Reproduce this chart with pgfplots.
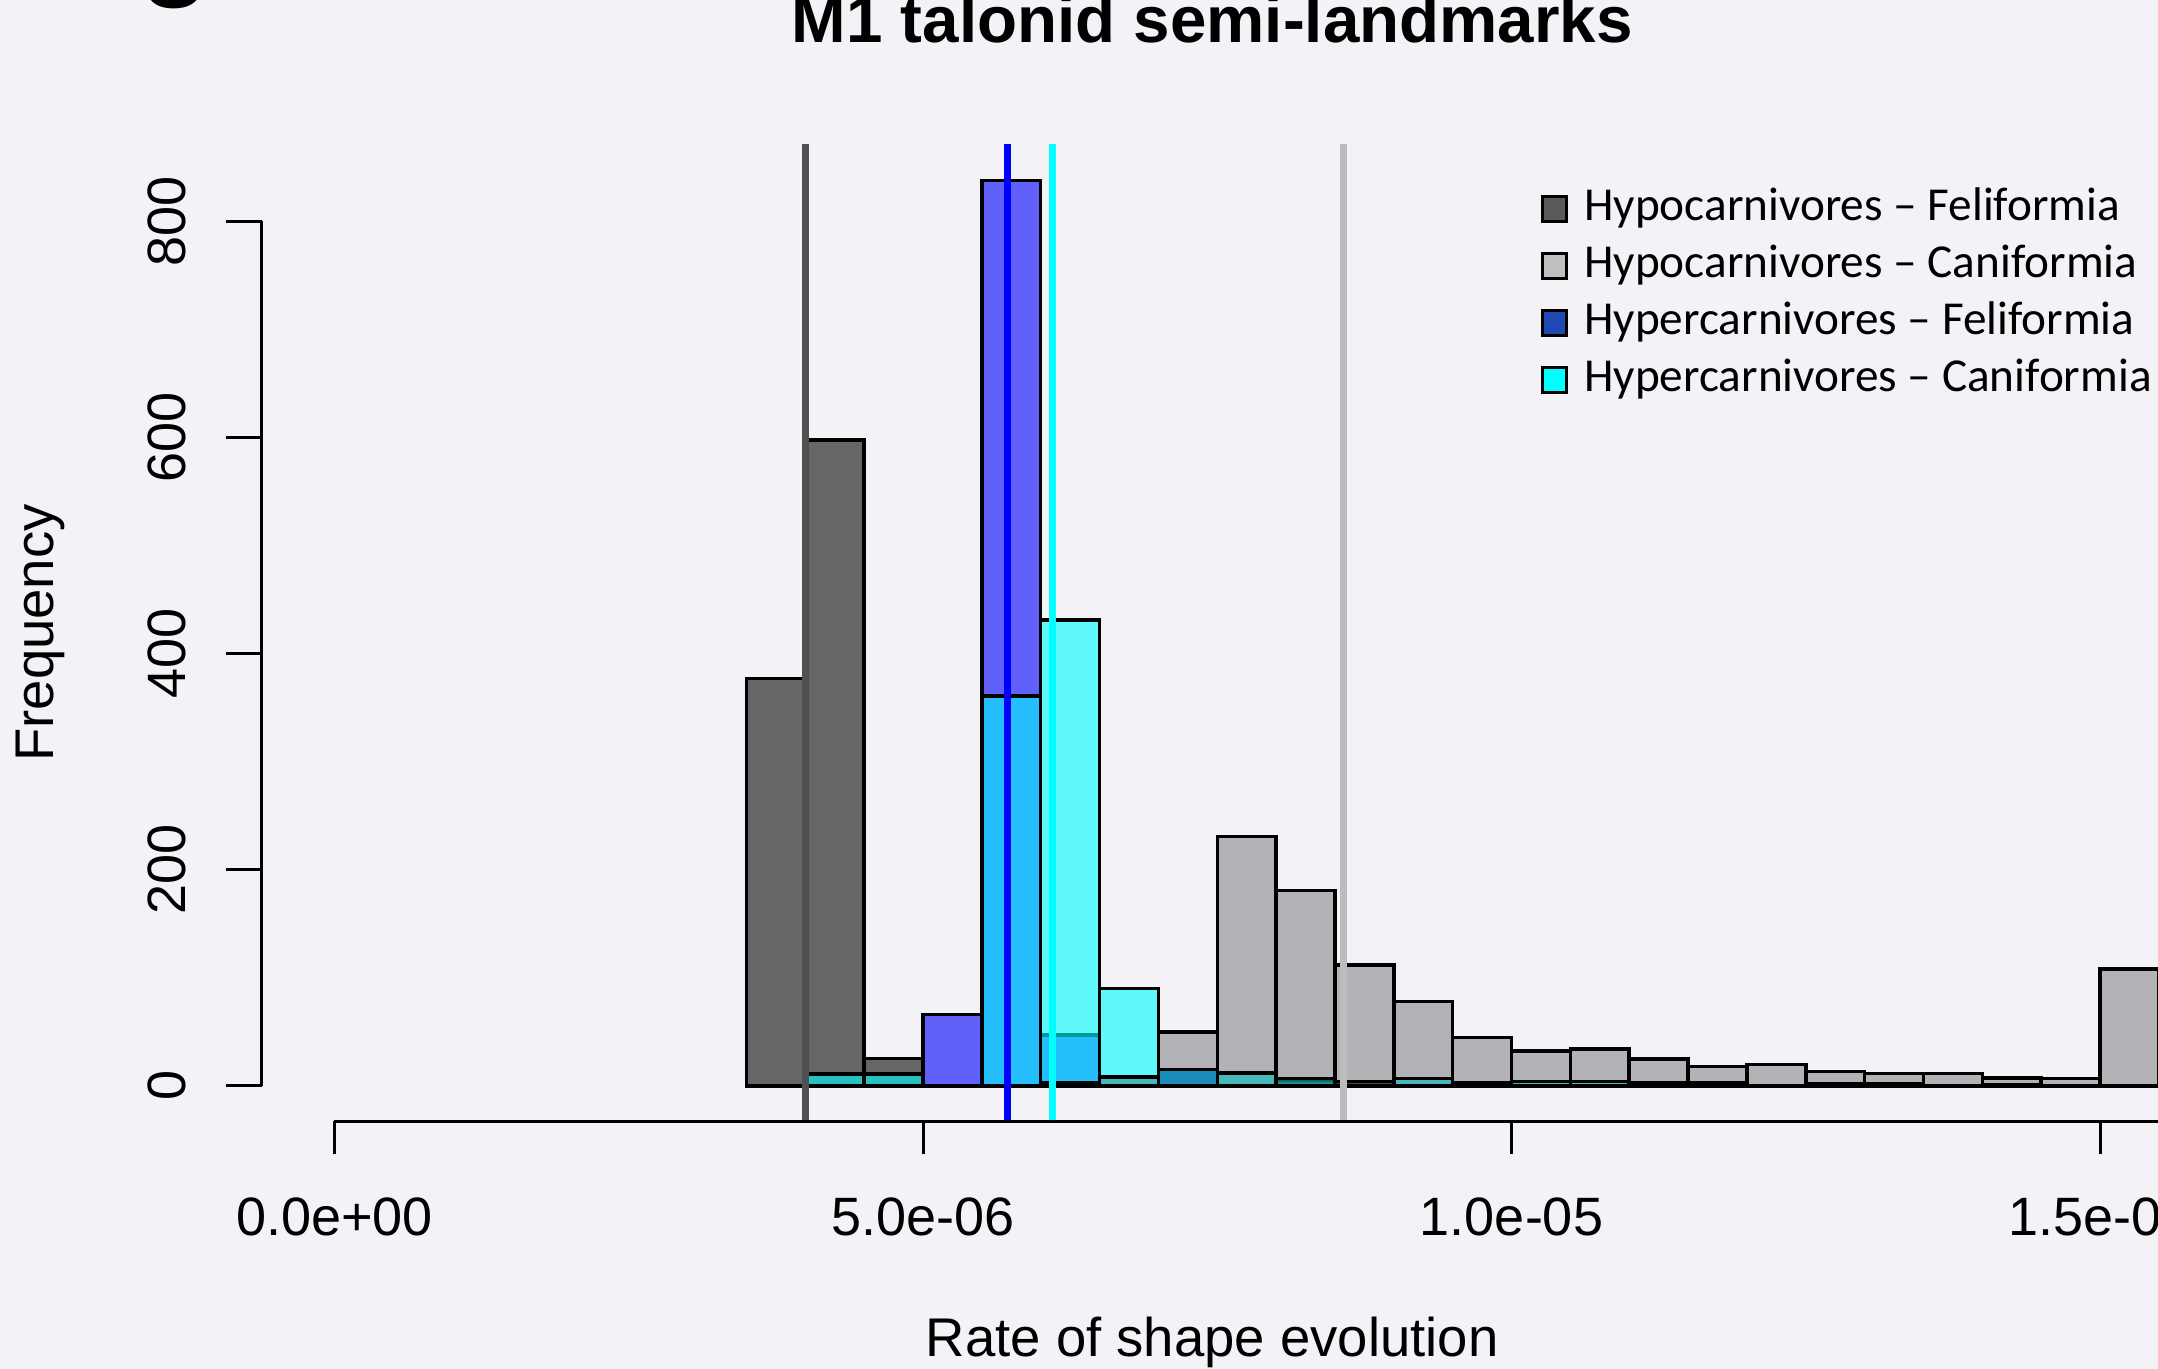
\documentclass[border=0pt]{standalone}
\usepackage{pgfplots}
\pgfplotsset{compat=1.18}
\usepackage{pgfplotstable}
\usepackage{fontspec}
\setmainfont{Liberation Sans}
\newfontfamily\carlito{Carlito}
\usetikzlibrary{backgrounds}
\definecolor{bgc}{RGB}{242,242,247}
\definecolor{dgray}{RGB}{102,102,102}
\definecolor{dline}{RGB}{80,80,80}
\definecolor{lline}{RGB}{188,188,188}
\definecolor{legblue}{RGB}{32,72,180}
\definecolor{legdg}{RGB}{90,90,90}
\definecolor{leglg}{RGB}{192,192,192}
\definecolor{cyn}{RGB}{0,255,255}
\definecolor{blu}{RGB}{0,0,255}
\newcommand{\ticksize}{\fontsize{10.8}{12}\selectfont}

\pgfplotstableread{
x dg blue cyan lg
3.5 377 0 0 0
4.0 598 0 11 0
4.5 25.5 0 11 0
5.0 0 66 0 0
5.5 0 838 361 0
6.0 0 47 431 3
6.5 0 0 90 8
7.0 0 15 15 50
7.5 0 0 12 231
8.0 5 0 7 181
8.5 4 0 0 112
9.0 0 0 7 78
9.5 2 0 3 45
10.0 0 0 4 32.5
10.5 0 0 4 34
11.0 3 0 0 25
11.5 3 0 0 18
12.0 0 0 0 20
12.5 2 0 0 13.5
13.0 2 0 0 11.5
13.5 0 0 0 11.5
14.0 1 0 0 7.5
14.5 0 0 0 7
15.0 0 0 0 108
15.5 0 0 0 0
}\hist

\begin{document}
\begin{tikzpicture}
\begin{axis}[
  scale only axis,
  width=379.3pt, height=195.4pt,
  xmin=-0.620, xmax=15.493, ymin=-32.9, ymax=871.3,
  axis line style={draw=none},
  xtick=\empty, ytick=\empty,
  clip=false,
  title={M1 talonid semi-landmarks},
  every axis title/.style={at={(axis description cs:0.5013,1.1042)}, anchor=base, inner sep=0pt, font=\bfseries\fontsize{13.1}{15}\selectfont},
  xlabel={Rate of shape evolution},
  every axis x label/.style={at={(axis description cs:0.5013,-0.2410)}, anchor=base, inner sep=0pt, font=\fontsize{10.9}{12}\selectfont},
  ylabel={Frequency},
  every axis y label/.style={at={(axis description cs:-0.1099,0.5)}, rotate=90, anchor=base, inner sep=0pt, font=\fontsize{10.9}{12}\selectfont},
  legend style={at={(axis description cs:0.6748,0.963)}, anchor=north west, draw=none, fill=none,
    inner sep=0pt, outer sep=0pt, row sep=0pt, column sep=3.2pt,
    font=\carlito\fontsize{9.45}{11.4}\selectfont,
    nodes={inner sep=0pt, text height=7.9pt, text depth=3.5pt}},
  legend cell align=left,
  legend image code/.code={\draw[#1, line width=0.6pt] (0pt,-2.5pt) rectangle (4.8pt,2.5pt);},
]
% histograms
\addplot[ybar interval, fill=dgray, draw=black, line width=0.7pt, forget plot] table[x=x, y=dg] {\hist};
\addplot[ybar interval, fill=blu, fill opacity=0.6, draw=black, line width=0.7pt, forget plot] table[x=x, y=blue] {\hist};
\addplot[ybar interval, fill=cyn, fill opacity=0.6, draw=black, line width=0.7pt, forget plot] table[x=x, y=cyan] {\hist};
\addplot[ybar interval, fill=black, fill opacity=0.26, draw=black, line width=0.7pt, forget plot] table[x=x, y=lg] {\hist};
% mean lines
\addplot[dline, line width=1.3pt, forget plot] coordinates {(4.0,-32.9) (4.0,871.3)};
\addplot[lline, line width=1.3pt, forget plot] coordinates {(8.571,-32.9) (8.571,871.3)};
\addplot[blu, line width=1.3pt, forget plot] coordinates {(5.72,-32.9) (5.72,871.3)};
\addplot[cyn, line width=1.3pt, forget plot] coordinates {(6.10,-32.9) (6.10,871.3)};
% legend
\addlegendimage{fill=legdg, draw=black}
\addlegendentry{Hypocarnivores – Feliformia}
\addlegendimage{fill=leglg, draw=black}
\addlegendentry{Hypocarnivores – Caniformia}
\addlegendimage{fill=legblue, draw=black}
\addlegendentry{Hypercarnivores – Feliformia}
\addlegendimage{fill=cyn, draw=black}
\addlegendentry{Hypercarnivores – Caniformia}
% R-style axes
\draw[line width=0.6pt] (axis cs:-0.620,0) -- (axis cs:-0.620,800);
\pgfplotsinvokeforeach{0,200,400,600,800}{
  \draw[line width=0.6pt] (axis cs:-0.620,#1) -- (axis cs:-0.9206,#1);
  \node[rotate=90, anchor=base, inner sep=0pt, font=\ticksize] at (axis cs:-1.2617,#1) {#1};
}
\draw[line width=0.6pt] (axis cs:0,-32.9) -- (axis cs:16,-32.9);
\draw[line width=0.6pt] (axis cs:0,-32.9) -- (axis cs:0,-62.9);
\draw[line width=0.6pt] (axis cs:5,-32.9) -- (axis cs:5,-62.9);
\draw[line width=0.6pt] (axis cs:10,-32.9) -- (axis cs:10,-62.9);
\draw[line width=0.6pt] (axis cs:15,-32.9) -- (axis cs:15,-62.9);
\node[anchor=base, inner sep=0pt, font=\ticksize] at (axis cs:0,-138.8) {0.0e+00};
\node[anchor=base, inner sep=0pt, font=\ticksize] at (axis cs:5,-138.8) {5.0e-06};
\node[anchor=base, inner sep=0pt, font=\ticksize] at (axis cs:10,-138.8) {1.0e-05};
\node[anchor=base, inner sep=0pt, font=\ticksize] at (axis cs:15,-138.8) {1.5e-05};
% panel letter (cut off)
\node[anchor=base, inner sep=0pt, font=\bfseries\fontsize{23}{23}\selectfont] at (axis cs:-1.354,1019.8) {g};
\coordinate (BL) at (axis cs:-2.842,-261.9);
\coordinate (TR) at (axis cs:15.493,1005.0);
\end{axis}
\pgfresetboundingbox
\path[use as bounding box] (BL) rectangle (TR);
\begin{scope}[on background layer]
\fill[bgc] (BL) rectangle (TR);
\end{scope}
\end{tikzpicture}
\end{document}
